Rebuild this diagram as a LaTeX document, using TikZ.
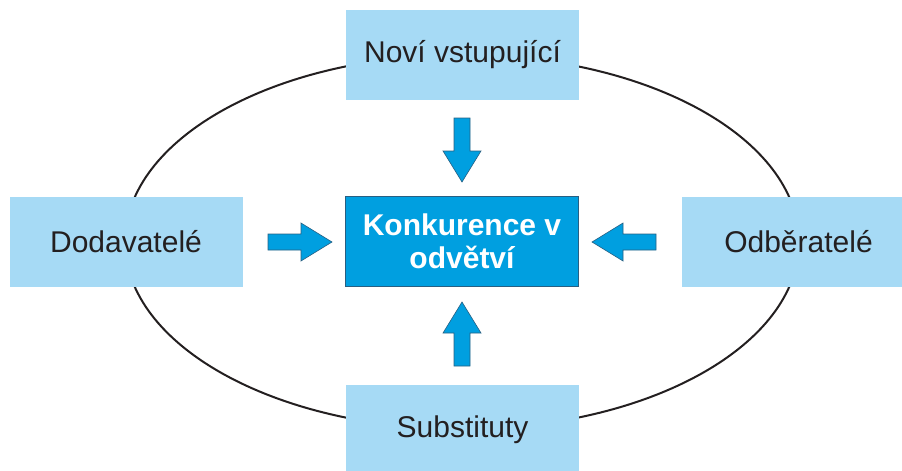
\documentclass[tikz,border=0pt]{standalone}
\usepackage{fontspec}
\setmainfont{Liberation Sans}
\definecolor{boxlight}{RGB}{166,218,245}
\definecolor{boxdark}{RGB}{0,159,224}
\definecolor{inkgray}{RGB}{35,31,32}
\definecolor{arrowedge}{RGB}{40,95,130}
\begin{document}
\begin{tikzpicture}[x=1pt,y=-1pt,
  force/.style={fill=boxlight, minimum width=233pt, minimum height=90pt,
    inner sep=0pt, text=inkgray, font=\fontsize{30}{33}\selectfont},
  core/.style={fill=boxdark, draw=arrowedge, line width=0.8pt,
    minimum width=233pt, minimum height=90pt, inner sep=0pt, text=white,
    align=center, font=\bfseries\fontsize{30}{33}\selectfont},
  rim/.style={draw=inkgray, line width=2pt},
  blockarrow/.pic={
    \path[fill=boxdark, draw=arrowedge, line width=0.6pt]
      (0,-8) -- (33,-8) -- (33,-19) -- (64,0) -- (33,19) -- (33,8) -- (0,8) -- cycle;
  }]
\useasboundingbox (0,0) rectangle (902,471);
\clip (0,0) rectangle (902,471);

% the ring joining the four forces
\draw[rim] (462,242) ellipse [x radius=337, y radius=187];

% the four forces and the rivalry in the middle
\node[force] (entrants) at (462.5,54.5) {Noví vstupující};
\node[force] (suppliers) at (126,242) {Dodavatelé};
\node[force] (buyers) at (798.5,242) {Odběratelé};
\node[force] (substitutes) at (462.5,430) {Substituty};
\node[core] (rivalry) at (462,241.5) {Konkurence v\\odvětví};

% block arrows pointing at the rivalry box
\pic[rotate=-90] at (462,118) {blockarrow};
\pic[rotate=90] at (462,366) {blockarrow};
\pic at (268,242) {blockarrow};
\pic[rotate=180] at (656,242) {blockarrow};
\end{tikzpicture}
\end{document}
